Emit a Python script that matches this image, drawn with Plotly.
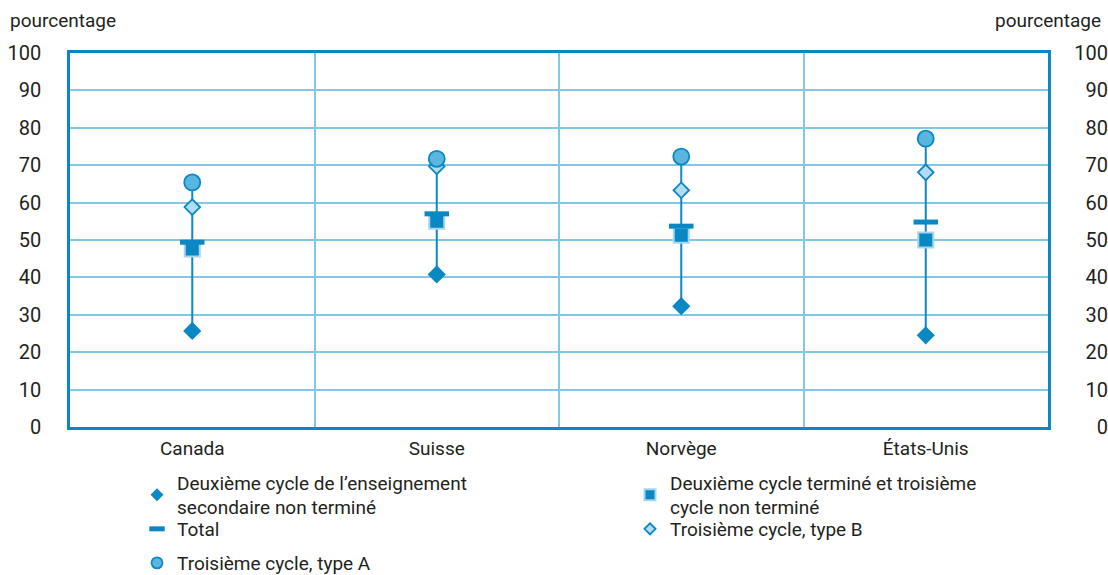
import plotly.graph_objects as go

# ---------------- data ----------------
countries = ["Canada", "Suisse", "Norvège", "États-Unis"]
sec_non_termine = [25.7, 40.8, 32.3, 24.5]   # Deuxième cycle du secondaire non terminé
sec_termine = [47.6, 55.0, 51.3, 50.0]       # Deuxième cycle terminé, troisième non terminé
total = [49.4, 57.0, 53.7, 54.8]
tert_b = [58.8, 69.7, 63.3, 68.1]            # Troisième cycle, type B
tert_a = [65.4, 71.7, 72.3, 77.1]            # Troisième cycle, type A
y_ticks = list(range(0, 101, 10))

name_a = "Deuxième cycle de l’enseignement<br>secondaire non terminé"
name_sq = "Deuxième cycle terminé et troisième<br>cycle non terminé"
name_tot = "Total"
name_b = "Troisième cycle, type B"
name_ta = "Troisième cycle, type A"

# ---------------- style ----------------
FONT = "Liberation Sans Narrow, Roboto, Arial, sans-serif"
TXT = "#231f20"
DARK = "#0a88c4"
MID = "#5ab6de"
LIGHT = "#b4dcf0"
SQ_EDGE = "#a6d6ee"
GRID = "#82c7e6"
FS = 20

xs = list(range(len(countries)))

fig = go.Figure()

# stems from min to max
stem_x, stem_y = [], []
for i in xs:
    vals = [sec_non_termine[i], sec_termine[i], total[i], tert_b[i], tert_a[i]]
    stem_x += [i, i, None]
    stem_y += [min(vals), max(vals), None]
fig.add_trace(go.Scatter(x=stem_x, y=stem_y, mode="lines",
                         line=dict(color=DARK, width=2), showlegend=False,
                         hoverinfo="skip"))

fig.add_trace(go.Scatter(x=xs, y=sec_non_termine, mode="markers", name=name_a,
                         marker=dict(symbol="diamond", size=14, color=DARK,
                                     line=dict(width=0)), showlegend=False))
fig.add_trace(go.Scatter(x=xs, y=sec_termine, mode="markers", name=name_sq,
                         marker=dict(symbol="square", size=15, color=DARK,
                                     line=dict(width=2, color=SQ_EDGE)), showlegend=False))
fig.add_trace(go.Scatter(x=xs, y=total, mode="markers", name=name_tot,
                         marker=dict(symbol="line-ew", size=17.5,
                                     line=dict(width=5, color=DARK)), showlegend=False))
fig.add_trace(go.Scatter(x=xs, y=tert_b, mode="markers", name=name_b,
                         marker=dict(symbol="diamond", size=12, color=LIGHT,
                                     line=dict(width=1.8, color=DARK)), showlegend=False))
fig.add_trace(go.Scatter(x=xs, y=tert_a, mode="markers", name=name_ta,
                         marker=dict(symbol="circle", size=16, color=MID,
                                     line=dict(width=1.8, color=DARK)), showlegend=False))

# legend entries (one legend box per entry for exact placement)
def leg_entry(name, marker, legend):
    fig.add_trace(go.Scatter(x=[None], y=[None], mode="markers", name=name,
                             marker=marker, legend=legend, showlegend=True))

leg_entry(name_a, dict(symbol="diamond", size=10, color=DARK, line=dict(width=0)), "legend")
leg_entry(name_tot, dict(symbol="line-ew", size=11, line=dict(width=5, color=DARK)), "legend2")
leg_entry(name_ta, dict(symbol="circle", size=11, color=MID, line=dict(width=1.8, color=DARK)), "legend3")
leg_entry(name_sq, dict(symbol="square", size=11, color=DARK, line=dict(width=2, color=SQ_EDGE)), "legend4")
leg_entry(name_b, dict(symbol="diamond", size=8.5, color=LIGHT, line=dict(width=1.8, color=DARK)), "legend5")

L, R, T, B = 70, 0, 53, 148
W, H = 1108, 575
pw, ph = W - L - R, H - T - B
plot_right = 1048
dom_r = (plot_right - L) / pw

def px_x(x):
    return (x - L) / pw

def px_y(y):
    return (H - B - y) / ph

leg_common = dict(bgcolor="rgba(0,0,0,0)", borderwidth=0, orientation="v",
                  xanchor="left", yanchor="middle",
                  font=dict(family=FONT, size=FS - 1, color=TXT))

fig.update_layout(
    width=W, height=H,
    margin=dict(l=L, r=R, t=T, b=B, autoexpand=False),
    plot_bgcolor="white", paper_bgcolor="white",
    font=dict(family=FONT, size=FS, color=TXT),
    xaxis=dict(domain=[0, dom_r], range=[-0.5, 3.5], tickmode="array",
               tickvals=xs, ticktext=countries, showgrid=False, zeroline=False,
               showline=True, mirror=True, linecolor=DARK, linewidth=2.5,
               ticks="", ticklabelstandoff=2,
               tickfont=dict(family=FONT, size=FS - 1, color=TXT)),
    yaxis=dict(range=[0, 100], tickmode="array", tickvals=y_ticks,
               showgrid=True, gridcolor=GRID, gridwidth=2, zeroline=False,
               showline=True, mirror=True, linecolor=DARK, linewidth=2.5,
               ticks="", ticklabelstandoff=22,
               tickfont=dict(family=FONT, size=FS, color=TXT)),
    yaxis2=dict(range=[0, 100], tickmode="array", tickvals=y_ticks,
                overlaying="y", anchor="free", position=1.0, side="left",
                showgrid=False, zeroline=False, showline=False, ticks="",
                tickfont=dict(family=FONT, size=FS, color=TXT)),
    legend=dict(x=px_x(137), y=px_y(495), **leg_common),
    legend2=dict(x=px_x(137), y=px_y(529), **leg_common),
    legend3=dict(x=px_x(137), y=px_y(563), **leg_common),
    legend4=dict(x=px_x(630), y=px_y(495), **leg_common),
    legend5=dict(x=px_x(630), y=px_y(529), **leg_common),
    annotations=[
        dict(text="pourcentage", xref="paper", yref="paper", x=px_x(8), y=px_y(20),
             xanchor="left", yanchor="middle", showarrow=False,
             font=dict(family=FONT, size=FS - 1, color=TXT)),
        dict(text="pourcentage", xref="paper", yref="paper", x=px_x(1103), y=px_y(20),
             xanchor="right", yanchor="middle", showarrow=False,
             font=dict(family=FONT, size=FS - 1, color=TXT)),
    ],
)
fig.update_xaxes(minor=dict(tickvals=[0.5, 1.5, 2.5], showgrid=True,
                            gridcolor=GRID, gridwidth=2, ticks=""))

# dummy trace to activate yaxis2 ticks
fig.add_trace(go.Scatter(x=[None], y=[None], yaxis="y2", showlegend=False, hoverinfo="skip"))

fig.write_html(
    "out.html",
    config={"displayModeBar": False},
    post_script="document.body.style.margin='0';document.body.style.overflow='hidden';",
)
